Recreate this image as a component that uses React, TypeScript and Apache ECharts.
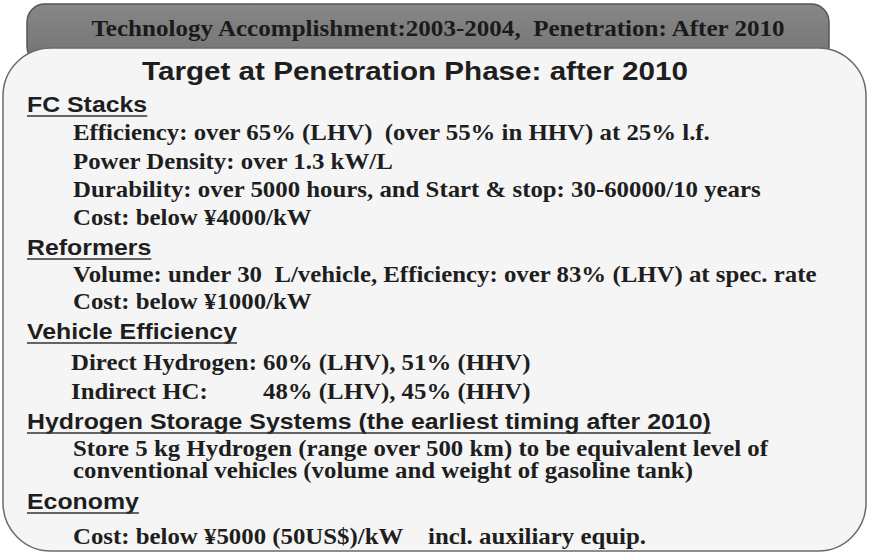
import React, { useEffect, useRef } from "react";
import * as echarts from "echarts";

const BANNER_TEXT = "Technology Accomplishment:2003-2004,  Penetration: After 2010";
const TITLE = "Target at Penetration Phase: after 2010";

const HEADINGS = [
  "FC Stacks",
  "Reformers",
  "Vehicle Efficiency",
  "Hydrogen Storage Systems (the earliest timing after 2010)",
  "Economy",
];

const FC_ITEMS = [
  "Efficiency: over 65% (LHV)  (over 55% in HHV) at 25% l.f.",
  "Power Density: over 1.3 kW/L",
  "Durability: over 5000 hours, and Start & stop: 30-60000/10 years",
  "Cost: below ¥4000/kW",
];
const REFORMER_ITEMS = [
  "Volume: under 30  L/vehicle, Efficiency: over 83% (LHV) at spec. rate",
  "Cost: below ¥1000/kW",
];
const VEHICLE_LABELS = ["Direct Hydrogen:", "Indirect HC:"];
const VEHICLE_VALUES = ["60% (LHV), 51% (HHV)", "48% (LHV), 45% (HHV)"];
const STORAGE_ITEMS = [
  "Store 5 kg Hydrogen (range over 500 km) to be equivalent level of",
  "conventional vehicles (volume and weight of gasoline tank)",
];
const ECONOMY_ITEMS = ["Cost: below ¥5000 (50US$)/kW", "incl. auxiliary equip."];

// layout (y centres)
const HEADING_Y = [105, 248, 332, 422, 502];
const FC_Y = [132, 161, 189, 217];
const REF_Y = [274, 301];
const VEH_Y = [362, 391];
const STORE_Y = [448, 470];
const ECON_Y = 536;

const SERIF = '"Liberation Serif", "Times New Roman", serif';
const SANS = '"Liberation Sans", Arial, sans-serif';
const TEXT_COLOR = "#1e1e1e";

const ITEM_FONT = `bold 23px ${SERIF}`;
const ITEM_SX = 1.08;
const HEAD_FONT = `bold 22px ${SANS}`;
const HEAD_SX = 1.13;

function measure(text: string, font: string): number {
  const c = document.createElement("canvas");
  const ctx = c.getContext("2d")!;
  ctx.font = font;
  return ctx.measureText(text).width;
}

function itemText(text: string, x: number, y: number, font = ITEM_FONT, sx = ITEM_SX) {
  return {
    type: "text",
    x,
    y,
    scaleX: sx,
    style: { x: 0, y: 0, text, font, fill: TEXT_COLOR, align: "left", verticalAlign: "middle" },
  };
}

function heading(text: string, y: number) {
  const w = measure(text, HEAD_FONT) * HEAD_SX;
  return [
    {
      type: "text",
      x: 27,
      y,
      scaleX: HEAD_SX,
      style: { x: 0, y: 0, text, font: HEAD_FONT, fill: TEXT_COLOR, align: "left", verticalAlign: "middle" },
    },
    {
      type: "line",
      shape: { x1: 27, y1: y + 11, x2: 27 + w, y2: y + 11 },
      style: { stroke: "#333", lineWidth: 1.5 },
    },
  ];
}

export default function App() {
  const ref = useRef<HTMLDivElement>(null);
  useEffect(() => {
    if (!ref.current) return;
    const chart = echarts.init(ref.current, null, { renderer: "svg" });
    const elements: any[] = [];
    // banner
    elements.push({
      type: "rect",
      shape: { x: 27, y: 4, width: 802, height: 60, r: 18 },
      style: {
        fill: new echarts.graphic.LinearGradient(0, 0, 0, 1, [
          { offset: 0, color: "#878787" },
          { offset: 1, color: "#727272" },
        ]),
        stroke: "#555",
        lineWidth: 1.5,
      },
    });
    elements.push({
      type: "text",
      x: 438,
      y: 28,
      scaleX: 1.09,
      style: {
        x: 0,
        y: 0,
        text: BANNER_TEXT,
        font: `bold 23px ${SERIF}`,
        fill: "#1a1a1a",
        align: "center",
        verticalAlign: "middle",
      },
    });
    // panel
    elements.push({
      type: "rect",
      shape: { x: 3, y: 48, width: 863, height: 503, r: 48 },
      style: { fill: "#f5f5f5", stroke: "#6a6a6a", lineWidth: 1.5 },
    });
    elements.push({
      type: "text",
      x: 415,
      y: 71,
      scaleX: 1.14,
      style: {
        x: 0,
        y: 0,
        text: TITLE,
        font: `bold 26px ${SANS}`,
        fill: TEXT_COLOR,
        align: "center",
        verticalAlign: "middle",
      },
    });
    HEADINGS.forEach((h, i) => elements.push(...heading(h, HEADING_Y[i])));
    FC_ITEMS.forEach((t, i) => elements.push(itemText(t, 73, FC_Y[i])));
    REFORMER_ITEMS.forEach((t, i) => elements.push(itemText(t, 73, REF_Y[i])));
    VEHICLE_LABELS.forEach((t, i) => elements.push(itemText(t, 71, VEH_Y[i])));
    VEHICLE_VALUES.forEach((t, i) => elements.push(itemText(t, 263, VEH_Y[i])));
    STORAGE_ITEMS.forEach((t, i) => elements.push(itemText(t, 73, STORE_Y[i])));
    elements.push(itemText(ECONOMY_ITEMS[0], 73, ECON_Y));
    elements.push(itemText(ECONOMY_ITEMS[1], 428, ECON_Y));

    chart.setOption({ animation: false, graphic: { elements } });
    return () => chart.dispose();
  }, []);
  return (
    <div
      ref={ref}
      style={{ position: "fixed", left: 0, top: 0, width: 869, height: 553, background: "#ffffff" }}
    />
  );
}
